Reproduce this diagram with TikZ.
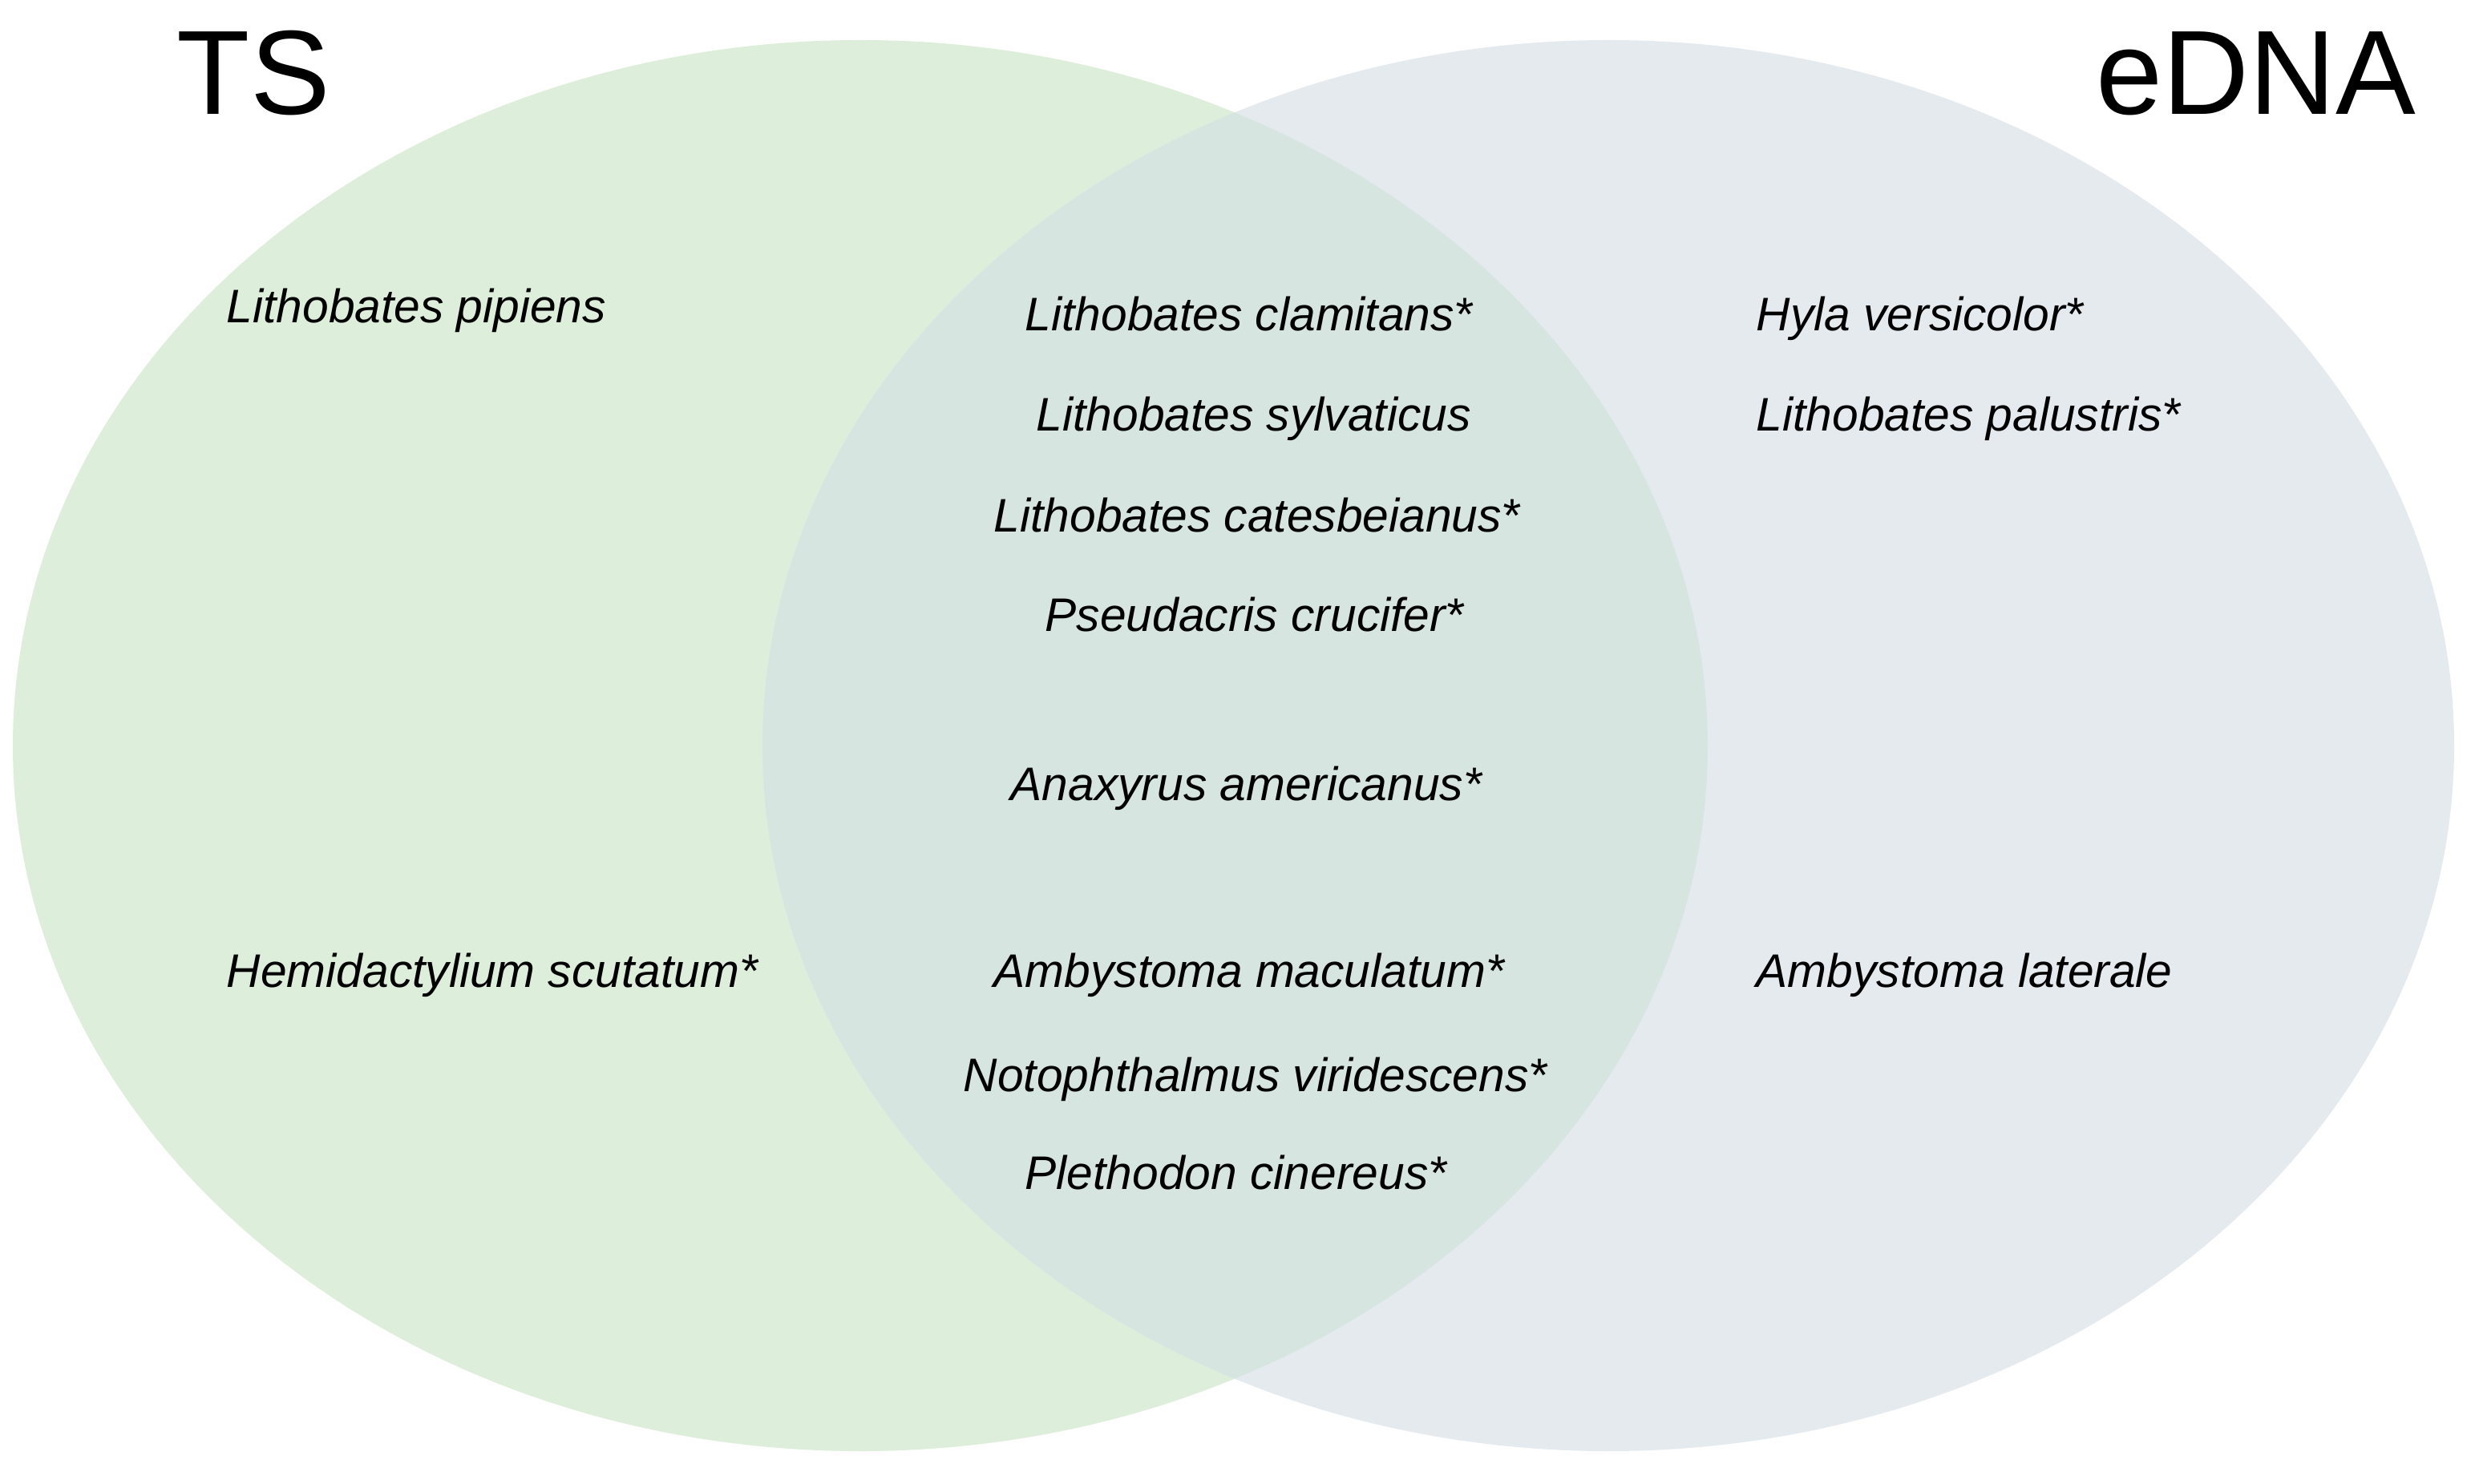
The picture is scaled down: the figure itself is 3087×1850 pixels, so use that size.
\documentclass[tikz,border=0pt]{standalone}
\usepackage{fontspec}
\setmainfont{Liberation Sans}
\definecolor{tsgreen}{HTML}{DDEFDA}
\definecolor{ednagray}{HTML}{E5EAEF}
\definecolor{overlapc}{HTML}{D6E5E0}
\begin{document}
\begin{tikzpicture}[x=0.01cm,y=0.01cm,
  species/.style={anchor=base west,inner sep=0pt,font=\fontsize{16.7pt}{20pt}\selectfont\itshape},
  settitle/.style={inner sep=0pt,font=\fontsize{42.5pt}{50pt}\selectfont}]
\useasboundingbox (0,0) rectangle (3087,1850);
\fill[white] (0,0) rectangle (3087,1850);
% circles
\fill[tsgreen] (1073,920) ellipse [x radius=1057, y radius=880];
\fill[ednagray] (2006,920) ellipse [x radius=1055, y radius=880];
\begin{scope}
  \clip (1073,920) ellipse [x radius=1057, y radius=880];
  \fill[overlapc] (2006,920) ellipse [x radius=1055, y radius=880];
\end{scope}
% titles
\node[settitle,anchor=base west] (ts) at (220,1707) {TS};
\node[settitle,anchor=base east] (edna) at (3014,1707) {eDNA};
% TS only
\node[species] (pip) at (282,1447) {Lithobates pipiens};
\node[species] (hem) at (282,619) {Hemidactylium scutatum*};
% shared
\node[species] (cla) at (1278,1437) {Lithobates clamitans*};
\node[species] (syl) at (1292,1312) {Lithobates sylvaticus};
\node[species] (cat) at (1239,1186) {Lithobates catesbeianus*};
\node[species] (cru) at (1303,1062) {Pseudacris crucifer*};
\node[species] (ame) at (1260,852) {Anaxyrus americanus*};
\node[species] (mac) at (1239,619) {Ambystoma maculatum*};
\node[species] (vir) at (1201,489) {Notophthalmus viridescens*};
\node[species] (cin) at (1278,367) {Plethodon cinereus*};
% eDNA only
\node[species] (hyl) at (2190,1437) {Hyla versicolor*};
\node[species] (pal) at (2190,1312) {Lithobates palustris*};
\node[species] (lat) at (2190,619) {Ambystoma laterale};
\end{tikzpicture}
\end{document}
